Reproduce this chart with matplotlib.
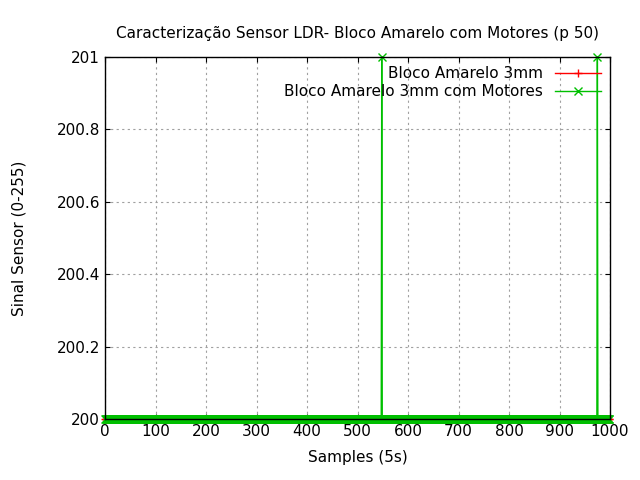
import matplotlib
matplotlib.use("Agg")
from matplotlib import pyplot as plt

# samples 0..999, sensor mostly constant at 200
n_samples = 1000
red_values = [200] * n_samples
green_values = [200] * n_samples
spike_samples = [548, 975]
for s in spike_samples:
    green_values[s] = 201

samples = list(range(n_samples))

fig = plt.figure(figsize=(6.4, 4.8), dpi=100)
ax = fig.add_axes([105 / 640, 1 - 419 / 480, 505 / 640, 362 / 480])

ax.plot(samples, red_values, color="#ff0000", marker="+", markersize=6, linewidth=1,
        label="Bloco Amarelo 3mm", clip_on=False)
ax.plot(samples, green_values, color="#00c000", marker="x", markersize=6, linewidth=1,
        label="Bloco Amarelo 3mm com Motores", clip_on=False)

ax.set_xlim(0, 1000)
ax.set_ylim(200, 201)
ax.set_xticks(range(0, 1001, 100))
ax.set_yticks([200, 200.2, 200.4, 200.6, 200.8, 201])
ax.set_yticklabels(["200", "200.2", "200.4", "200.6", "200.8", "201"])
ax.grid(True, color="#a0a0a0", linestyle=(0, (2, 3)), linewidth=0.8)
ax.tick_params(direction="in", top=True, right=True, labelsize=11)
for sp in ax.spines.values():
    sp.set_linewidth(1)

ax.set_title("Caracterização Sensor LDR- Bloco Amarelo com Motores (p 50)", fontsize=11, pad=14)
ax.set_xlabel("Samples (5s)", fontsize=11, labelpad=8)
ax.set_ylabel("Sinal Sensor (0-255)", fontsize=11, labelpad=22)

leg = ax.legend(loc="upper right", frameon=False, fontsize=11, markerfirst=False,
                handlelength=3, borderaxespad=0.2, labelspacing=0.2)

plt.savefig("out.png")
